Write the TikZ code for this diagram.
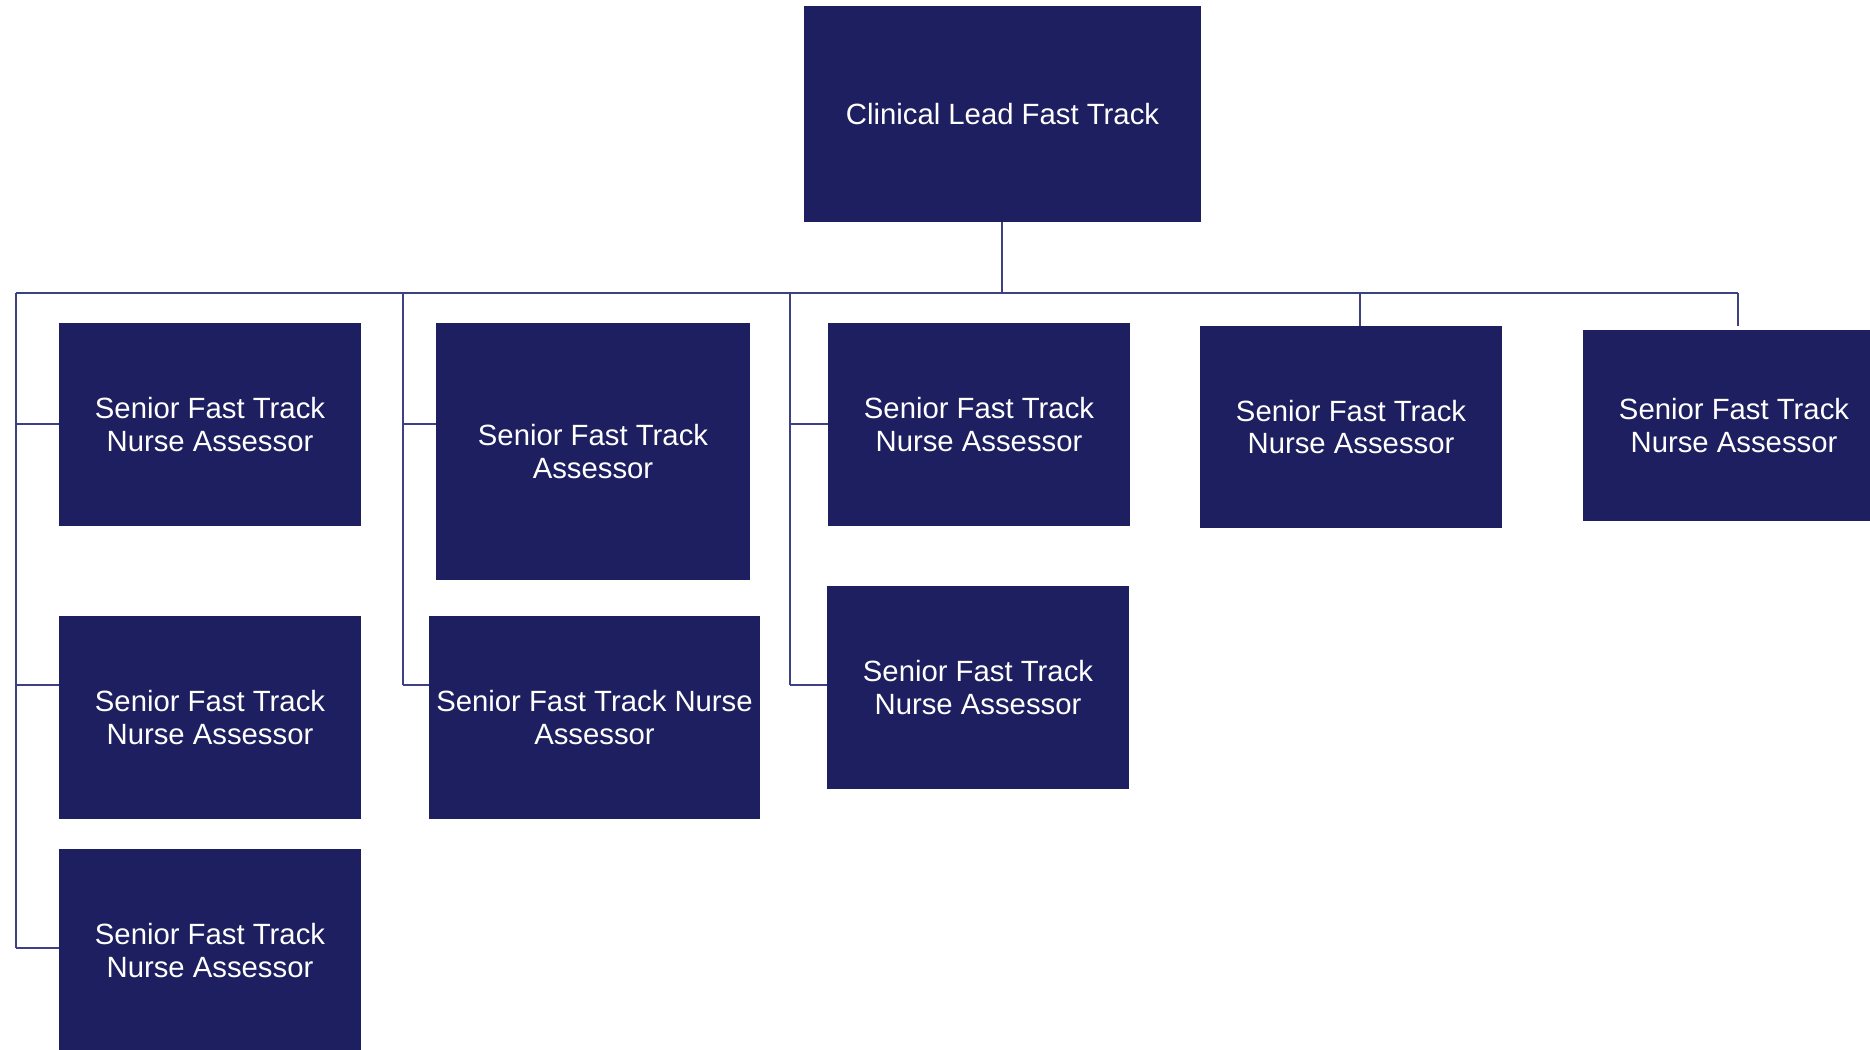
\documentclass[tikz,border=0pt]{standalone}
\usepackage{fontspec}
\setmainfont{Liberation Sans}
\definecolor{boxnavy}{RGB}{30,31,96}
\definecolor{linenavy}{RGB}{62,64,132}
\begin{document}
\begin{tikzpicture}[x=1pt,y=-1pt,
  orgbox/.style={fill=boxnavy, draw=none, inner sep=0pt, text=white, align=center,
    font=\fontsize{29.3}{32.5}\selectfont},
  conn/.style={draw=linenavy, line width=1.5pt}]
\useasboundingbox (0,0) rectangle (1870,1049);
\clip (0,0) rectangle (1870,1049);
\fill[white] (0,0) rectangle (1870,1049);

\node[orgbox, minimum width=397pt, minimum height=216pt] (top) at (1002.5,114) {Clinical Lead Fast Track};

\node[orgbox, minimum width=302pt, minimum height=203pt] (a1) at (210,424.5) {Senior Fast Track\\Nurse Assessor};
\node[orgbox, minimum width=302pt, minimum height=203pt] (a2) at (210,717.5) {Senior Fast Track\\Nurse Assessor};
\node[orgbox, minimum width=302pt, minimum height=203pt] (a3) at (210,950.5) {Senior Fast Track\\Nurse Assessor};

\node[orgbox, minimum width=314pt, minimum height=257pt] (b1) at (593,451.5) {Senior Fast Track\\Assessor};
\node[orgbox, minimum width=331pt, minimum height=203pt] (b2) at (594.5,717.5) {Senior Fast Track Nurse\\Assessor};

\node[orgbox, minimum width=302pt, minimum height=203pt] (c1) at (979,424.5) {Senior Fast Track\\Nurse Assessor};
\node[orgbox, minimum width=302pt, minimum height=203pt] (c2) at (978,687.5) {Senior Fast Track\\Nurse Assessor};

\node[orgbox, minimum width=302pt, minimum height=202pt] (d1) at (1351,427) {Senior Fast Track\\Nurse Assessor};
\node[orgbox, minimum width=302pt, minimum height=191pt] (e1) at (1734,425.5) {Senior Fast Track\\Nurse Assessor};

% bus coordinates
\coordinate (busL) at (16,293);
\coordinate (busR) at (1738,293);
\coordinate (busT) at (1002,293);
\coordinate (busB) at (403,293);
\coordinate (busC) at (790,293);
\coordinate (busD) at (1360,293);
\coordinate (endE) at (1738,326);
\coordinate (ya1) at (16,424);
\coordinate (ya2) at (16,685);
\coordinate (ya3) at (16,948);
\coordinate (yb1) at (403,424);
\coordinate (yb2) at (403,685);
\coordinate (yc1) at (790,424);
\coordinate (yc2) at (790,685);

\draw[conn] (top.south -| busT) -- (busT);
\draw[conn] (busL) -- (busR);
\draw[conn] (busL) -- (ya3);
\draw[conn] (ya1) -- (ya1 -| a1.west);
\draw[conn] (ya2) -- (ya2 -| a2.west);
\draw[conn] (ya3) -- (ya3 -| a3.west);
\draw[conn] (busB) -- (yb2);
\draw[conn] (yb1) -- (yb1 -| b1.west);
\draw[conn] (yb2) -- (yb2 -| b2.west);
\draw[conn] (busC) -- (yc2);
\draw[conn] (yc1) -- (yc1 -| c1.west);
\draw[conn] (yc2) -- (yc2 -| c2.west);
\draw[conn] (busD) -- (busD |- d1.north);
\draw[conn] (busR) -- (endE);
\end{tikzpicture}
\end{document}
